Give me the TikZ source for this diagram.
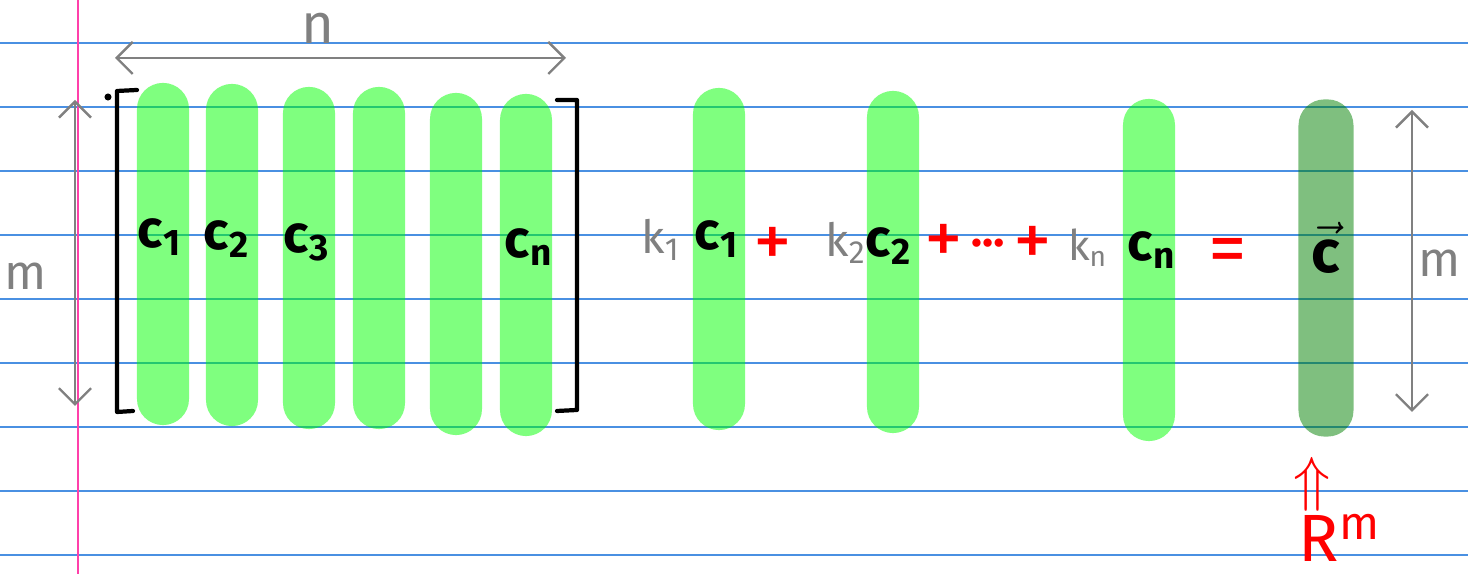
\documentclass[tikz,border=0pt]{standalone}
\usepackage{fontspec}
\setsansfont{Fira Sans}
\usepackage{amsmath}
\usetikzlibrary{arrows.meta}

\definecolor{ruleblue}{RGB}{74,144,226}
\definecolor{marginpink}{RGB}{255,64,170}
\definecolor{colgreen}{RGB}{0,255,0}
\definecolor{resgreen}{RGB}{0,128,0}
\definecolor{penred}{RGB}{255,0,0}
\definecolor{pengray}{RGB}{128,128,128}

\begin{document}
\begin{tikzpicture}[
			x=0.01cm, y=-0.01cm,
			col/.style={
				rectangle,
				fill=colgreen,
				fill opacity=0.5,
				minimum width=0.52cm,
				minimum height=3.42cm,
				rounded corners=0.26cm,
				inner sep=0pt
			},
			clbl/.style={
				font=\sffamily\bfseries\fontsize{15}{18}\selectfont,
				text=black,
				inner sep=1pt
			},
			glbl/.style={
				font=\sffamily\fontsize{13}{16}\selectfont,
				text=pengray,
				inner sep=1pt
			},
			rlbl/.style={
				font=\sffamily\fontsize{22}{26}\selectfont,
				text=penred,
				inner sep=1pt
			},
			dim/.style={
				{Straight Barb[length=1.6mm, width=3.2mm]}-{Straight Barb[length=1.6mm, width=3.2mm]},
				draw=pengray,
				line width=0.7pt
			},
			bracket/.style={
				draw=black,
				line width=1.2pt,
				line join=round,
				line cap=round
			}
			]
			
			\useasboundingbox (0,0) rectangle (1468,574);
			
			% ruled paper
			\foreach \y in {43,107,...,555}
				\draw[ruleblue, line width=0.6pt] (0,\y) -- (1468,\y);
			\draw[marginpink, line width=0.7pt] (78,0) -- (78,574);
			
			% Matrix columns
			\node[col] (col1) at (163,254) {};
			\node[col] (col2) at (232,255) {};
			\node[col] (col3) at (309,258) {};
			\node[col] (col4) at (379,258) {};
			\node[col] (col5) at (456,264) {};
			\node[col] (col6) at (526,265) {};
			
			\node[clbl] (c1) at (160,237) {c\textsubscript{1}};
			\node[clbl] (c2) at (227,239) {c\textsubscript{2}};
			\node[clbl] (c3) at (307,242) {c\textsubscript{3}};
			\node[clbl] (cn) at (529,247) {c\textsubscript{n}};
			
			% Brackets
			\draw[bracket] (137,90) -- (117,91) -- (117,412) -- (133,411);
			\draw[bracket] (557,100) -- (577,100) -- (577,410) -- (557,411);
			\fill (108,97) circle (1pt);
			
			% Dimensions of the matrix
			\coordinate (nleft) at (115,58);
			\coordinate (nright) at (566,58);
			\draw[dim] (nleft) -- (nright);
			\node[glbl, font=\sffamily\fontsize{16}{19}\selectfont] (nlbl) at (318,28) {n};
			
			\coordinate (mtop) at (75,100);
			\coordinate (mbot) at (75,406);
			\draw[dim] (mtop) -- (mbot);
			\node[glbl, font=\sffamily\fontsize{14}{17}\selectfont] (mlbl) at (26,276) {m};
			
			% Linear combination
			\node[col] (lc1) at (719,259) {};
			\node[col] (lc2) at (893,262) {};
			\node[col] (lcn) at (1149,270) {};
			
			\node[glbl] (k1) at (661,240) {k\textsubscript{1}};
			\node[clbl] (lc1lbl) at (717,239) {c\textsubscript{1}};
			\node[rlbl] (plus1) at (773,247) {+};
			\node[glbl] (k2) at (846,243) {k\textsubscript{2}};
			\node[clbl] (lc2lbl) at (889,246) {c\textsubscript{2}};
			\node[rlbl] (plus2) at (944,244) {+};
			\node[rlbl, font=\sffamily\bfseries\fontsize{13}{16}\selectfont] (dots) at (988,243) {\dots};
			\node[rlbl] (plus3) at (1033,246) {+};
			\node[glbl, font=\sffamily\fontsize{12}{14}\selectfont] (kn) at (1088,248) {k\textsubscript{n}};
			\node[clbl] (lcnlbl) at (1152,250) {c\textsubscript{n}};
			\node[rlbl] (eq) at (1228,256) {=};
			
			% Result vector
			\node[col, fill=resgreen, minimum width=0.55cm, minimum height=3.37cm] (vc) at (1326,268) {};
			\node[clbl, font=\sffamily\bfseries\fontsize{17}{20}\selectfont] (vclbl) at (1326,248) {$\vec{\mbox{c}}$};
			
			\coordinate (rtop) at (1412,110);
			\coordinate (rbot) at (1412,412);
			\draw[dim] (rtop) -- (rbot);
			\node[glbl, font=\sffamily\fontsize{14}{17}\selectfont] (rmlbl) at (1440,263) {m};
			
			% Space of the result
			\node[rlbl, font=\fontsize{16}{19}\selectfont] (elem) at (1312,484) {$\Uparrow$};
			\node[rlbl, font=\sffamily\fontsize{19}{22}\selectfont] (rm) at (1340,538) {R$^{\text{m}}$};
			
		\end{tikzpicture}
\end{document}
